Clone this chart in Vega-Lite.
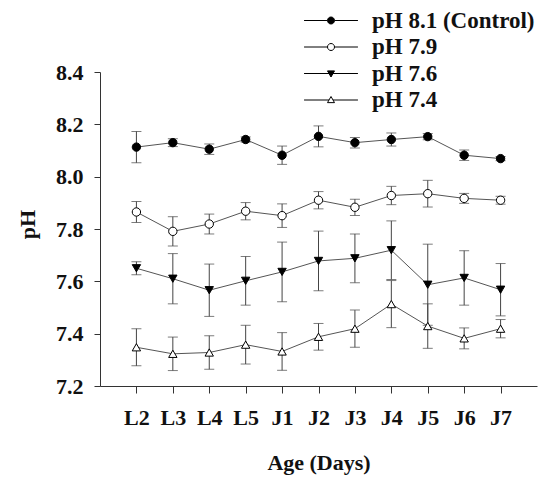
{
  "$schema": "https://vega.github.io/schema/vega-lite/v6.json",
  "width": 437,
  "height": 314,
  "autosize": {"type": "none"},
  "padding": {"left": 100, "top": 72, "right": 10, "bottom": 92},
  "background": "white",
  "config": {
    "view": {"stroke": null},
    "font": "Liberation Serif",
    "axis": {"grid": false, "domainColor": "#333", "tickColor": "#333", "labelFont": "Liberation Serif", "titleFont": "Liberation Serif", "labelFontWeight": "bold", "titleFontWeight": "bold", "labelColor": "#111", "titleColor": "#111", "labelFontSize": 22, "titleFontSize": 22}
  },
  "data": {"values": [
    {"series": "pH 8.1 (Control)", "day": "L2", "mean": 8.113, "err": 0.06},
    {"series": "pH 8.1 (Control)", "day": "L3", "mean": 8.13, "err": 0.015},
    {"series": "pH 8.1 (Control)", "day": "L4", "mean": 8.105, "err": 0.02},
    {"series": "pH 8.1 (Control)", "day": "L5", "mean": 8.142, "err": 0.01},
    {"series": "pH 8.1 (Control)", "day": "J1", "mean": 8.082, "err": 0.035},
    {"series": "pH 8.1 (Control)", "day": "J2", "mean": 8.154, "err": 0.04},
    {"series": "pH 8.1 (Control)", "day": "J3", "mean": 8.13, "err": 0.02},
    {"series": "pH 8.1 (Control)", "day": "J4", "mean": 8.142, "err": 0.025},
    {"series": "pH 8.1 (Control)", "day": "J5", "mean": 8.153, "err": 0.012},
    {"series": "pH 8.1 (Control)", "day": "J6", "mean": 8.082, "err": 0.02},
    {"series": "pH 8.1 (Control)", "day": "J7", "mean": 8.069, "err": 0.008},
    {"series": "pH 7.9", "day": "L2", "mean": 7.865, "err": 0.04},
    {"series": "pH 7.9", "day": "L3", "mean": 7.791, "err": 0.056},
    {"series": "pH 7.9", "day": "L4", "mean": 7.819, "err": 0.038},
    {"series": "pH 7.9", "day": "L5", "mean": 7.868, "err": 0.033},
    {"series": "pH 7.9", "day": "J1", "mean": 7.851, "err": 0.045},
    {"series": "pH 7.9", "day": "J2", "mean": 7.91, "err": 0.033},
    {"series": "pH 7.9", "day": "J3", "mean": 7.883, "err": 0.031},
    {"series": "pH 7.9", "day": "J4", "mean": 7.928, "err": 0.035},
    {"series": "pH 7.9", "day": "J5", "mean": 7.935, "err": 0.051},
    {"series": "pH 7.9", "day": "J6", "mean": 7.917, "err": 0.019},
    {"series": "pH 7.9", "day": "J7", "mean": 7.91, "err": 0.015},
    {"series": "pH 7.6", "day": "L2", "mean": 7.65, "err": 0.025},
    {"series": "pH 7.6", "day": "L3", "mean": 7.61, "err": 0.096},
    {"series": "pH 7.6", "day": "L4", "mean": 7.566, "err": 0.1},
    {"series": "pH 7.6", "day": "L5", "mean": 7.602, "err": 0.093},
    {"series": "pH 7.6", "day": "J1", "mean": 7.636, "err": 0.114},
    {"series": "pH 7.6", "day": "J2", "mean": 7.678, "err": 0.114},
    {"series": "pH 7.6", "day": "J3", "mean": 7.688, "err": 0.093},
    {"series": "pH 7.6", "day": "J4", "mean": 7.719, "err": 0.112},
    {"series": "pH 7.6", "day": "J5", "mean": 7.587, "err": 0.155},
    {"series": "pH 7.6", "day": "J6", "mean": 7.613, "err": 0.104},
    {"series": "pH 7.6", "day": "J7", "mean": 7.568, "err": 0.1},
    {"series": "pH 7.4", "day": "L2", "mean": 7.348, "err": 0.071},
    {"series": "pH 7.4", "day": "L3", "mean": 7.323, "err": 0.064},
    {"series": "pH 7.4", "day": "L4", "mean": 7.328, "err": 0.064},
    {"series": "pH 7.4", "day": "L5", "mean": 7.358, "err": 0.074},
    {"series": "pH 7.4", "day": "J1", "mean": 7.332, "err": 0.072},
    {"series": "pH 7.4", "day": "J2", "mean": 7.388, "err": 0.051},
    {"series": "pH 7.4", "day": "J3", "mean": 7.419, "err": 0.071},
    {"series": "pH 7.4", "day": "J4", "mean": 7.513, "err": 0.09},
    {"series": "pH 7.4", "day": "J5", "mean": 7.429, "err": 0.085},
    {"series": "pH 7.4", "day": "J6", "mean": 7.382, "err": 0.04},
    {"series": "pH 7.4", "day": "J7", "mean": 7.419, "err": 0.035}
  ]},
  "encoding": {
    "x": {"field": "day", "type": "ordinal", "sort": ["L2","L3","L4","L5","J1","J2","J3","J4","J5","J6","J7"],
      "scale": {"type": "point", "padding": 1},
      "axis": {"title": "Age (Days)", "labelAngle": 0, "tickSize": 7, "labelPadding": 14, "titleBaseline": "alphabetic", "titleY": 83}}
  },
  "layer": [
    {
      "mark": {"type": "errorbar", "ticks": {"size": 10}, "color": "#444", "thickness": 1},
      "encoding": {
        "y": {"field": "mean", "type": "quantitative", "scale": {"domain": [7.2, 8.4], "nice": false, "zero": false},
          "axis": {"title": "pH", "values": [7.2, 7.4, 7.6, 7.8, 8.0, 8.2, 8.4], "format": ".1f", "tickSize": 6, "labelPadding": 11, "titleBaseline": "alphabetic", "titleX": -66, "titleY": 152}},
        "yError": {"field": "err"},
        "detail": {"field": "series"}
      }
    },
    {
      "mark": {"type": "line", "color": "#555", "strokeWidth": 1},
      "encoding": {
        "y": {"field": "mean", "type": "quantitative"},
        "detail": {"field": "series"}
      }
    },
    {
      "mark": {"type": "point", "filled": true, "stroke": "black", "strokeWidth": 1, "size": 70, "opacity": 1},
      "encoding": {
        "y": {"field": "mean", "type": "quantitative"},
        "shape": {"field": "series", "type": "nominal", "legend": null,
          "scale": {"domain": ["pH 8.1 (Control)", "pH 7.9", "pH 7.6", "pH 7.4"], "range": ["circle", "circle", "triangle-down", "triangle-up"]}},
        "fill": {"field": "series", "type": "nominal", "legend": null,
          "scale": {"domain": ["pH 8.1 (Control)", "pH 7.9", "pH 7.6", "pH 7.4"], "range": ["black", "white", "black", "white"]}}
      }
    },
    {
      "mark": {"type": "point", "filled": true, "strokeWidth": 1, "size": 0, "opacity": 1},
      "encoding": {
        "y": {"field": "mean", "type": "quantitative"},
        "shape": {"field": "series", "type": "nominal",
          "scale": {"domain": ["pH 8.1 (Control)", "pH 7.9", "pH 7.6", "pH 7.4"],
            "range": [
              "M-7.7,0H-1M1,0H7.7M1,0A1,1,0,1,1,-1,0A1,1,0,1,1,1,0Z",
              "M-7.7,0H-1M1,0H7.7M1,0A1,1,0,1,1,-1,0A1,1,0,1,1,1,0Z",
              "M-7.7,0H7.7M-1,-0.75L1,-0.75L0,1Z",
              "M-7.7,0H-0.571M0.571,0H7.7M0,-1L1,0.75L-1,0.75Z"
            ]},
          "legend": {"title": null, "orient": "none", "legendX": 219.5, "legendY": -63, "padding": 0, "symbolSize": 49, "symbolStrokeWidth": 1, "labelOffset": 29.5, "rowPadding": 2.5, "labelLimit": 300, "labelFont": "Liberation Serif", "labelFontWeight": "bold", "labelFontSize": 23, "labelColor": "#111",
            "encode": {"symbols": {"strokeWidth": {"value": 1}, "size": {"value": 49}}}}},
        "fill": {"field": "series", "type": "nominal",
          "scale": {"domain": ["pH 8.1 (Control)", "pH 7.9", "pH 7.6", "pH 7.4"], "range": ["black", "white", "black", "white"]}},
        "stroke": {"field": "series", "type": "nominal",
          "scale": {"domain": ["pH 8.1 (Control)", "pH 7.9", "pH 7.6", "pH 7.4"], "range": ["black", "black", "black", "black"]}}
      }
    }
  ],
  "resolve": {"scale": {"shape": "independent", "fill": "independent", "stroke": "independent"}}
}
